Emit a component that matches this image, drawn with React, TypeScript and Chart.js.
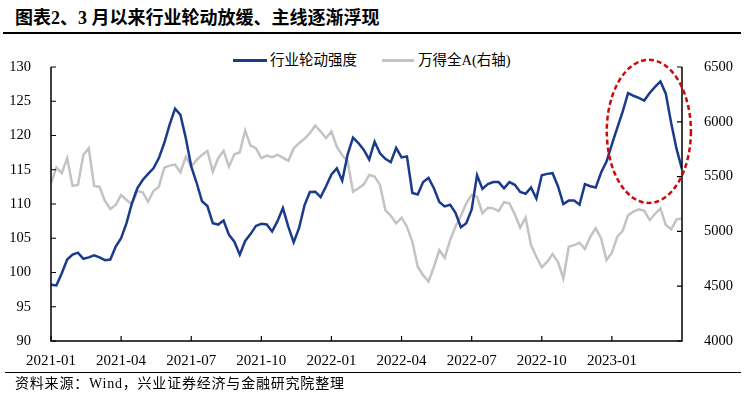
import React, { useEffect, useRef } from "react";
import { Chart, registerables } from "chart.js";

Chart.register(...registerables);

const TITLE = "图表2、3 月以来行业轮动放缓、主线逐渐浮现";
const SOURCE = "资料来源：Wind，兴业证券经济与金融研究院整理";
const SERIES1_NAME = "行业轮动强度";
const SERIES2_NAME = "万得全A(右轴)";

// weekly observations, index 0 = first week of 2021-01
const xTickIndex = [0, 13, 26, 39, 52, 65, 78, 91, 104];
const xTickLabels = [
  "2021-01", "2021-04", "2021-07", "2021-10",
  "2022-01", "2022-04", "2022-07", "2022-10", "2023-01",
];

const rotation: number[] = [
  98.2, 98.1, 99.9, 101.9, 102.6, 102.9, 102.0, 102.2, 102.5, 102.2,
  101.8, 101.9, 103.8, 105.0, 107.2, 110.1, 112.3, 113.5, 114.4, 115.2,
  116.7, 118.9, 121.6, 123.9, 123.0, 119.6, 115.5, 113.1, 110.4, 109.7,
  107.2, 107.0, 107.6, 105.5, 104.5, 102.6, 104.6, 105.6, 106.8, 107.1,
  107.0, 106.0, 107.5, 109.4, 106.7, 104.4, 106.5, 109.8, 111.75, 111.8,
  111.0, 112.6, 114.3, 115.2, 113.4, 117.2, 119.7, 118.9, 117.9, 116.5,
  119.1, 117.4, 116.6, 116.1, 118.2, 116.8, 116.95, 111.6, 111.4, 113.2,
  113.8, 112.3, 110.3, 109.65, 109.9, 108.7, 106.6, 107.2, 109.2, 114.2,
  112.2, 112.9, 113.2, 113.2, 112.3, 113.2, 112.8, 111.75, 111.5, 112.4,
  110.8, 114.2, 114.4, 114.5, 112.6, 110.0, 110.5, 110.5, 109.9, 112.9,
  112.6, 112.4, 114.6, 116.2, 118.7, 121.1, 123.5, 126.2, 125.8, 125.5,
  125.1, 126.2, 127.1, 127.9, 126.1, 121.8, 118.0, 115.1,
];

const windA: number[] = [
  5440, 5582, 5531, 5668, 5415, 5424, 5698, 5759, 5415, 5406,
  5277, 5204, 5241, 5332, 5287, 5247, 5369, 5357, 5271, 5369,
  5408, 5582, 5600, 5610, 5540, 5683, 5591, 5652, 5698, 5735,
  5545, 5668, 5735, 5591, 5704, 5722, 5920, 5783, 5759, 5668,
  5692, 5677, 5698, 5673, 5643, 5759, 5805, 5845, 5896, 5966,
  5911, 5851, 5911, 5770, 5695, 5640, 5363, 5394, 5430, 5515,
  5500, 5424, 5195, 5143, 5073, 5125, 5043, 4905, 4677, 4601,
  4543, 4677, 4830, 4759, 4921, 5043, 5143, 5256, 5332, 5317,
  5165, 5216, 5210, 5186, 5266, 5256, 5156, 5034, 5125, 4875,
  4768, 4671, 4722, 4793, 4723, 4571, 4860, 4875, 4896, 4839,
  4951, 5028, 4936, 4738, 4805, 4951, 5006, 5149, 5180, 5202,
  5189, 5104, 5159, 5211, 5058, 5019, 5110, 5119,
];

const leftMin = 90;
const leftMax = 130;
const leftStep = 5;
const rightMin = 4000;
const rightMax = 6500;
const rightStep = 500;

// highlight ellipse (data units: x index / left-axis value)
const highlightCenter = [110.85, 120.6];
const highlightRadius = [7.8, 10.45];

const BLUE = "#1A3A8C";
const GRAY = "#C3C3C3";
const RED = "#CC0A0A";
const SERIF = "'Liberation Serif', 'Noto Sans CJK SC', serif";
const CANVAS_SERIF = "'Liberation Serif', serif";

const axesPlugin = {
  id: "axesAndHighlight",
  afterDatasetsDraw(chart: any) {
    const { ctx, chartArea, scales } = chart;
    const { left, right, top, bottom } = chartArea;
    const xs = scales.x;
    const ys = scales.y;
    const y1 = scales.y1;
    ctx.save();
    // axes
    ctx.strokeStyle = "#000";
    ctx.lineWidth = 1.5;
    ctx.beginPath();
    ctx.moveTo(left, top);
    ctx.lineTo(left, bottom);
    ctx.lineTo(right, bottom);
    ctx.lineTo(right, top);
    ctx.stroke();
    // inner tick marks
    ctx.lineWidth = 1.2;
    ctx.beginPath();
    for (const t of ys.ticks) {
      const p = ys.getPixelForValue(t.value);
      ctx.moveTo(left, p);
      ctx.lineTo(left + 5, p);
    }
    for (const t of y1.ticks) {
      const p = y1.getPixelForValue(t.value);
      ctx.moveTo(right, p);
      ctx.lineTo(right - 5, p);
    }
    for (const t of xs.ticks) {
      const p = xs.getPixelForValue(t.value);
      ctx.moveTo(p, bottom);
      ctx.lineTo(p, bottom - 5);
    }
    ctx.stroke();
    // highlight ellipse
    const cx = xs.getPixelForValue(highlightCenter[0]);
    const cy = ys.getPixelForValue(highlightCenter[1]);
    const rx = Math.abs(xs.getPixelForValue(highlightCenter[0] + highlightRadius[0]) - cx);
    const ry = Math.abs(ys.getPixelForValue(highlightCenter[1] + highlightRadius[1]) - cy);
    ctx.beginPath();
    ctx.setLineDash([5, 3]);
    ctx.strokeStyle = RED;
    ctx.lineWidth = 2.5;
    ctx.ellipse(cx, cy, rx, ry, 0, 0, Math.PI * 2);
    ctx.stroke();
    ctx.restore();
  },
};

export default function App() {
  const ref = useRef<HTMLCanvasElement>(null);

  useEffect(() => {
    const canvas = ref.current;
    if (!canvas) return;
    const tickFont = { family: CANVAS_SERIF, size: 14.5 };
    const chart = new Chart(canvas, {
      type: "line",
      data: {
        datasets: [
          {
            label: SERIES1_NAME,
            data: rotation.map((v, i) => ({ x: i, y: v })),
            borderColor: BLUE,
            borderWidth: 2.5,
            pointRadius: 0,
            tension: 0,
            yAxisID: "y",
          },
          {
            label: SERIES2_NAME,
            data: windA.map((v, i) => ({ x: i, y: v })),
            borderColor: GRAY,
            borderWidth: 2.5,
            pointRadius: 0,
            tension: 0,
            yAxisID: "y1",
          },
        ],
      },
      options: {
        responsive: false,
        animation: false,
        layout: { padding: { top: 67, left: 0, right: 0, bottom: 0 } },
        plugins: {
          legend: { display: false },
          tooltip: { enabled: false },
        },
        scales: {
          x: {
            type: "linear",
            min: 0,
            max: rotation.length - 1,
            grid: { display: false },
            border: { display: false },
            afterBuildTicks: (s: any) => {
              s.ticks = xTickIndex.map((v) => ({ value: v }));
            },
            afterFit: (s: any) => {
              s.height = 56;
            },
            ticks: {
              autoSkip: false,
              maxRotation: 0,
              minRotation: 0,
              padding: 3,
              color: "#000",
              font: { family: CANVAS_SERIF, size: 15 },
              callback: (v: any) => {
                const k = xTickIndex.indexOf(Number(v));
                return k >= 0 ? xTickLabels[k] : "";
              },
            },
          },
          y: {
            position: "left",
            min: leftMin,
            max: leftMax,
            grid: { display: false },
            border: { display: false },
            afterFit: (s: any) => {
              s.width = 51;
            },
            ticks: {
              stepSize: leftStep,
              padding: 12,
              color: "#000",
              font: tickFont,
              callback: (v: any) => String(v),
            },
          },
          y1: {
            position: "right",
            min: rightMin,
            max: rightMax,
            grid: { display: false },
            border: { display: false },
            afterFit: (s: any) => {
              s.width = 62;
            },
            ticks: {
              stepSize: rightStep,
              padding: 14,
              color: "#000",
              font: tickFont,
              callback: (v: any) => String(v),
            },
          },
        },
      },
      plugins: [axesPlugin],
    } as any);
    let alive = true;
    if ((document as any).fonts && (document as any).fonts.load) {
      Promise.all([
        (document as any).fonts.load("15px 'Liberation Serif'"),
        (document as any).fonts.load("14.5px 'Liberation Serif'"),
      ])
        .then(() => {
          if (alive) chart.update();
        })
        .catch(() => {});
    }
    return () => {
      alive = false;
      chart.destroy();
    };
  }, []);

  const legendText: React.CSSProperties = {
    position: "absolute",
    top: 50,
    height: 20,
    lineHeight: "20px",
    fontFamily: SERIF,
    fontSize: 14.5,
    color: "#000",
    whiteSpace: "nowrap",
  };

  return (
    <div
      style={{
        position: "fixed",
        left: 0,
        top: 0,
        width: 744,
        height: 397,
        background: "#fff",
        overflow: "hidden",
      }}
    >
      <div
        style={{
          position: "absolute",
          left: 15,
          top: 8,
          lineHeight: "20px",
          fontFamily: SERIF,
          fontWeight: "bold",
          fontSize: 18,
          color: "#000",
          whiteSpace: "nowrap",
        }}
      >
        {TITLE}
      </div>
      <div style={{ position: "absolute", left: 3, top: 32, width: 738, height: 2, background: "#000" }} />
      <div style={{ position: "absolute", left: 233, top: 58.5, width: 34, height: 3, background: BLUE }} />
      <div style={{ ...legendText, left: 270 }}>{SERIES1_NAME}</div>
      <div style={{ position: "absolute", left: 382, top: 58.5, width: 32, height: 3, background: GRAY }} />
      <div style={{ ...legendText, left: 418 }}>{SERIES2_NAME}</div>
      <canvas
        ref={ref}
        width={744}
        height={397}
        style={{ position: "absolute", left: 0, top: 0, width: 744, height: 397 }}
      />
      <div style={{ position: "absolute", left: 5, top: 371.5, width: 736, height: 1.5, background: "#000" }} />
      <div
        style={{
          position: "absolute",
          left: 15,
          top: 375,
          lineHeight: "18px",
          fontFamily: SERIF,
          fontSize: 14,
          letterSpacing: 0.8,
          color: "#000",
          whiteSpace: "nowrap",
        }}
      >
        {SOURCE}
      </div>
    </div>
  );
}
